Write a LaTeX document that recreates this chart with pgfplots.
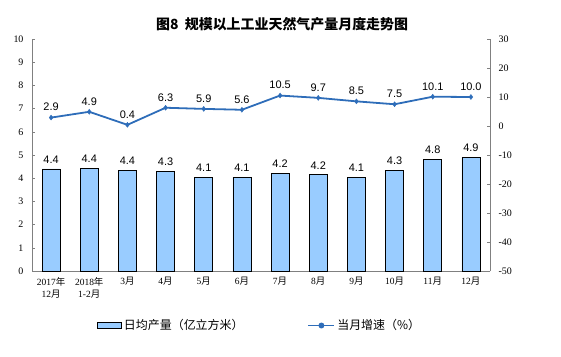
\documentclass[border=0pt]{standalone}
\usepackage{pgfplots}
\pgfplotsset{compat=1.18}
\usepackage{pgfplotstable}
\usepackage{fontspec}
\setmainfont{Liberation Serif}
\newfontfamily\cjk{Noto Sans CJK SC}
\newfontfamily\arial{Liberation Sans}
\definecolor{barblue}{HTML}{99CCFF}
\definecolor{lineblue}{HTML}{2E6DB9}
\pgfplotstableread{
x y lab
0 4.40 4.4
1 4.43 4.4
2 4.35 4.4
3 4.30 4.3
4 4.05 4.1
5 4.05 4.1
6 4.20 4.2
7 4.15 4.2
8 4.05 4.1
9 4.35 4.3
10 4.80 4.8
11 4.90 4.9
}\bars
\pgfplotstableread{
x y lab
0 2.9 2.9
1 4.9 4.9
2 0.4 0.4
3 6.3 6.3
4 5.9 5.9
5 5.6 5.6
6 10.5 10.5
7 9.7 9.7
8 8.5 8.5
9 7.5 7.5
10 10.1 10.1
11 10.0 10.0
}\growth
\begin{document}
\begin{tikzpicture}
\useasboundingbox (-32bp,-86bp) rectangle (529bp,271bp);
\begin{axis}[
  at={(0,0)}, anchor=south west,
  scale only axis, width=458bp, height=232bp,
  xmin=-0.5, xmax=11.5, ymin=0, ymax=10,
  axis x line*=bottom, axis y line*=left,
  ytick={0,1,...,10},
  xtick={0,...,11},
  xticklabels={{2017{\cjk 年}\\12{\cjk 月}},{2018{\cjk 年}\\1-2{\cjk 月}},3{\cjk 月},4{\cjk 月},5{\cjk 月},6{\cjk 月},7{\cjk 月},8{\cjk 月},9{\cjk 月},10{\cjk 月},11{\cjk 月},12{\cjk 月}},
  x tick label style={align=center, font=\fontsize{9.5}{12}\selectfont, yshift=-3bp},
  y tick label style={font=\fontsize{10}{12}\selectfont, xshift=-5bp},
  /pgf/number format/assume math mode=true,
  major x tick style={draw=none},
  extra x ticks={0.5,1.5,...,10.5},
  extra x tick labels={},
  extra x tick style={major tick length=4bp, tick align=outside, tick style={draw=gray}},
  tick style={draw=gray},
  major tick length=3bp,
  tick align=inside,
  axis line style={draw=gray},
  clip=false,
]
\addplot[ybar, bar width=18bp, fill=barblue, draw=black, line width=0.8pt,
  nodes near coords, point meta=explicit symbolic,
  every node near coord/.append style={font=\arial\fontsize{11}{13}\selectfont, text=black, yshift=2bp}]
  table[x=x, y=y, meta=lab] {\bars};
\node[font=\cjk\bfseries\fontsize{14}{16}\selectfont] at (rel axis cs:0.546,1.065) {图8\ \ 规模以上工业天然气产量月度走势图};
\end{axis}
\begin{axis}[
  at={(0,0)}, anchor=south west,
  scale only axis, width=458bp, height=232bp,
  xmin=-0.5, xmax=11.5, ymin=-50, ymax=30,
  axis x line=none, axis y line*=right,
  ytick={-50,-40,...,30},
  y tick label style={font=\fontsize{10}{12}\selectfont, xshift=5bp},
  /pgf/number format/assume math mode=true,
  tick style={draw=gray}, tick align=inside, major tick length=3bp,
  axis line style={draw=gray},
  clip=false,
  legend style={at={(rel axis cs:0.497,-0.235)}, anchor=center, draw=none, fill=none,
    legend columns=2, font=\cjk\fontsize{12}{14}\selectfont,
    /tikz/every even column/.append style={column sep=62bp}},
  legend cell align=left,
]
\addlegendimage{legend image code/.code={\draw[fill=barblue,draw=black,line width=0.8pt] (0bp,-3bp) rectangle (24bp,3bp);}}
\addlegendentry{日均产量（亿立方米）}
\addplot[color=lineblue, line width=1.8pt, mark=diamond*, mark size=2.5pt,
  mark options={fill=lineblue, draw=lineblue, line width=0.4pt},
  nodes near coords, point meta=explicit symbolic,
  every node near coord/.append style={font=\arial\fontsize{11}{13}\selectfont, text=black, yshift=3bp},
  legend image code/.code={\draw[lineblue,line width=1.8pt] (0bp,0bp) -- (26bp,0bp); \fill[lineblue] (13bp,0bp) circle (2bp);}]
  table[x=x, y=y, meta=lab] {\growth};
\addlegendentry{当月增速（\%）}
\end{axis}
\end{tikzpicture}
\end{document}
